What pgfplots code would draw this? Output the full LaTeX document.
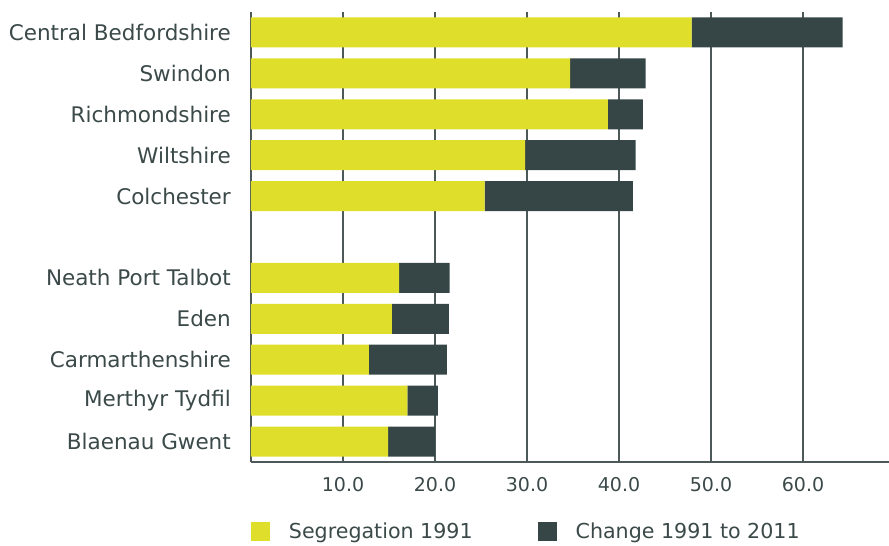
\documentclass[border=0pt]{standalone}
\usepackage{fontspec}
\setmainfont{DejaVu Sans}
\usepackage{pgfplots}
\usepackage{pgfplotstable}
\pgfplotsset{compat=1.18}
\definecolor{segyellow}{HTML}{DEDE2B}
\definecolor{changedark}{HTML}{364646}
\definecolor{txt}{HTML}{3B4949}
\definecolor{gridc}{HTML}{4D5858}
\pgfplotstableread{
y seg change
10 47.9 16.4
9 34.7 8.2
8 38.8 3.8
7 29.8 12.0
6 25.4 16.1
4 16.1 5.5
3 15.3 6.2
2 12.8 8.5
1 17.0 3.3
0 14.9 5.1
}\data
\begin{document}
\begin{tikzpicture}
\useasboundingbox (0pt,0pt) rectangle (889pt,-546pt);
\clip (0pt,0pt) rectangle (889pt,-546pt);
\begin{axis}[
  at={(251pt,-12pt)}, anchor=north west,
  scale only axis, width=638pt, height=450pt,
  xmin=0, xmax=69.35, ymin=-0.5, ymax=10.5,
  xbar stacked, bar width=30pt,
  axis lines*=left,
  axis line style={-, draw=gridc, line width=1.2pt},
  xmajorgrids, grid style={draw=gridc, line width=1.2pt},
  major tick length=0pt,
  xtick={10,20,30,40,50,60},
  xticklabel style={/pgf/number format/fixed, /pgf/number format/fixed zerofill, /pgf/number format/precision=1, /pgf/number format/assume math mode=true,
    inner sep=0pt, yshift=-15pt, font=\fontsize{19}{22}\selectfont, text=txt},
  ytick={0,1,2,3,4,6,7,8,9,10},
  yticklabels={Blaenau Gwent, Merthyr Tydfil, Carmarthenshire, Eden, Neath Port Talbot, Colchester, Wiltshire, Richmondshire, Swindon, Central Bedfordshire},
  yticklabel style={inner sep=0pt, xshift=-20pt, font=\fontsize{21.5}{25}\selectfont, text=txt},
  legend columns=2,
  legend image code/.code={\fill[#1] (0pt,-9.5pt) rectangle (19pt,9.5pt);},
  legend style={at={(0,-0.1330)}, anchor=north west, draw=none, fill=none, inner sep=0pt, outer sep=0pt,
    font=\fontsize{20.6}{24}\selectfont, text=txt,
    nodes={inner sep=0pt},
    /tikz/every odd column/.append style={column sep=19pt},
    /tikz/every even column/.append style={column sep=65pt}},
]
\addplot[fill=segyellow, draw=none] table[x=seg, y=y] {\data};
\addplot[fill=changedark, draw=none] table[x=change, y=y] {\data};
\legend{Segregation 1991, Change 1991 to 2011}
\end{axis}
\end{tikzpicture}
\end{document}
